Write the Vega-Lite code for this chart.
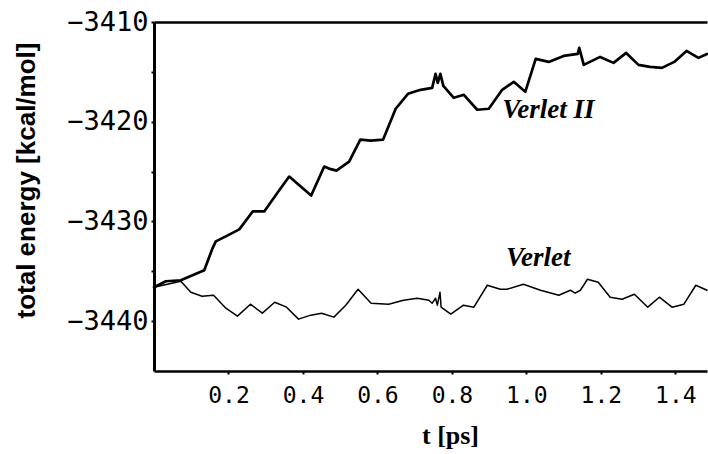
{
  "$schema": "https://vega.github.io/schema/vega-lite/v6.json",
  "width": 553,
  "height": 349,
  "autosize": {"type": "none"},
  "padding": {"left": 154, "top": 22, "right": 1, "bottom": 83},
  "background": "white",
  "config": {"view": {"stroke": null}},
  "datasets": {
    "energy": [
      {"s":"Verlet II","t":0,"E":-3436.6},{"s":"Verlet II","t":0.032,"E":-3436.0},{"s":"Verlet II","t":0.072,"E":-3435.9},{"s":"Verlet II","t":0.135,"E":-3434.9},{"s":"Verlet II","t":0.157,"E":-3432.7},{"s":"Verlet II","t":0.166,"E":-3432.0},{"s":"Verlet II","t":0.198,"E":-3431.4},{"s":"Verlet II","t":0.229,"E":-3430.8},{"s":"Verlet II","t":0.265,"E":-3429.0},{"s":"Verlet II","t":0.296,"E":-3429.0},{"s":"Verlet II","t":0.332,"E":-3427.1},{"s":"Verlet II","t":0.363,"E":-3425.5},{"s":"Verlet II","t":0.422,"E":-3427.4},{"s":"Verlet II","t":0.457,"E":-3424.5},{"s":"Verlet II","t":0.470,"E":-3424.7},{"s":"Verlet II","t":0.490,"E":-3424.9},{"s":"Verlet II","t":0.524,"E":-3424.0},{"s":"Verlet II","t":0.554,"E":-3421.8},{"s":"Verlet II","t":0.582,"E":-3421.9},{"s":"Verlet II","t":0.615,"E":-3421.8},{"s":"Verlet II","t":0.649,"E":-3418.7},{"s":"Verlet II","t":0.682,"E":-3417.2},{"s":"Verlet II","t":0.716,"E":-3416.8},{"s":"Verlet II","t":0.747,"E":-3416.6},{"s":"Verlet II","t":0.756,"E":-3415.2},{"s":"Verlet II","t":0.762,"E":-3416.1},{"s":"Verlet II","t":0.769,"E":-3415.2},{"s":"Verlet II","t":0.777,"E":-3416.4},{"s":"Verlet II","t":0.805,"E":-3417.6},{"s":"Verlet II","t":0.832,"E":-3417.3},{"s":"Verlet II","t":0.868,"E":-3418.8},{"s":"Verlet II","t":0.899,"E":-3418.7},{"s":"Verlet II","t":0.935,"E":-3416.8},{"s":"Verlet II","t":0.966,"E":-3416.0},{"s":"Verlet II","t":0.997,"E":-3417.0},{"s":"Verlet II","t":1.025,"E":-3413.7},{"s":"Verlet II","t":1.060,"E":-3414.0},{"s":"Verlet II","t":1.100,"E":-3413.4},{"s":"Verlet II","t":1.138,"E":-3413.2},{"s":"Verlet II","t":1.142,"E":-3412.6},{"s":"Verlet II","t":1.154,"E":-3414.3},{"s":"Verlet II","t":1.198,"E":-3413.5},{"s":"Verlet II","t":1.234,"E":-3414.1},{"s":"Verlet II","t":1.268,"E":-3413.1},{"s":"Verlet II","t":1.301,"E":-3414.3},{"s":"Verlet II","t":1.332,"E":-3414.5},{"s":"Verlet II","t":1.364,"E":-3414.6},{"s":"Verlet II","t":1.397,"E":-3414.0},{"s":"Verlet II","t":1.430,"E":-3412.9},{"s":"Verlet II","t":1.462,"E":-3413.6},{"s":"Verlet II","t":1.485,"E":-3413.2},
      {"s":"Verlet","t":0,"E":-3436.6},{"s":"Verlet","t":0.072,"E":-3436.0},{"s":"Verlet","t":0.099,"E":-3437.1},{"s":"Verlet","t":0.129,"E":-3437.5},{"s":"Verlet","t":0.160,"E":-3437.4},{"s":"Verlet","t":0.193,"E":-3438.7},{"s":"Verlet","t":0.224,"E":-3439.5},{"s":"Verlet","t":0.259,"E":-3438.3},{"s":"Verlet","t":0.291,"E":-3439.2},{"s":"Verlet","t":0.324,"E":-3438.1},{"s":"Verlet","t":0.356,"E":-3438.6},{"s":"Verlet","t":0.388,"E":-3439.8},{"s":"Verlet","t":0.421,"E":-3439.4},{"s":"Verlet","t":0.450,"E":-3439.2},{"s":"Verlet","t":0.483,"E":-3439.6},{"s":"Verlet","t":0.515,"E":-3438.4},{"s":"Verlet","t":0.548,"E":-3436.8},{"s":"Verlet","t":0.583,"E":-3438.2},{"s":"Verlet","t":0.630,"E":-3438.3},{"s":"Verlet","t":0.670,"E":-3437.9},{"s":"Verlet","t":0.707,"E":-3437.7},{"s":"Verlet","t":0.738,"E":-3437.9},{"s":"Verlet","t":0.747,"E":-3438.2},{"s":"Verlet","t":0.756,"E":-3437.7},{"s":"Verlet","t":0.761,"E":-3438.4},{"s":"Verlet","t":0.768,"E":-3437.1},{"s":"Verlet","t":0.771,"E":-3438.6},{"s":"Verlet","t":0.797,"E":-3439.3},{"s":"Verlet","t":0.831,"E":-3438.4},{"s":"Verlet","t":0.859,"E":-3438.6},{"s":"Verlet","t":0.895,"E":-3436.4},{"s":"Verlet","t":0.930,"E":-3436.8},{"s":"Verlet","t":0.948,"E":-3436.8},{"s":"Verlet","t":0.992,"E":-3436.3},{"s":"Verlet","t":1.038,"E":-3436.9},{"s":"Verlet","t":1.087,"E":-3437.4},{"s":"Verlet","t":1.118,"E":-3436.9},{"s":"Verlet","t":1.131,"E":-3437.2},{"s":"Verlet","t":1.145,"E":-3436.9},{"s":"Verlet","t":1.164,"E":-3435.8},{"s":"Verlet","t":1.193,"E":-3436.1},{"s":"Verlet","t":1.225,"E":-3437.6},{"s":"Verlet","t":1.257,"E":-3437.8},{"s":"Verlet","t":1.290,"E":-3437.3},{"s":"Verlet","t":1.326,"E":-3438.6},{"s":"Verlet","t":1.357,"E":-3437.6},{"s":"Verlet","t":1.391,"E":-3438.6},{"s":"Verlet","t":1.423,"E":-3438.3},{"s":"Verlet","t":1.455,"E":-3436.4},{"s":"Verlet","t":1.485,"E":-3436.9}
    ],
    "labels": [
      {"name": "Verlet II", "t": 1.059, "E": -3418.8},
      {"name": "Verlet", "t": 1.032, "E": -3433.7}
    ]
  },
  "layer": [
    {
      "data": {"name": "energy"},
      "mark": {"type": "line", "color": "black", "strokeJoin": "round", "strokeCap": "round"},
      "encoding": {
        "x": {
          "field": "t", "type": "quantitative",
          "scale": {"domain": [0, 1.485], "nice": false, "zero": false},
          "axis": {
            "orient": "bottom",
            "title": "t [ps]",
            "values": [0.2, 0.4, 0.6, 0.8, 1.0, 1.2, 1.4],
            "format": ".1f",
            "grid": false,
            "domainColor": "black", "domainWidth": 2.5,
            "tickColor": "black", "tickSize": 3, "tickWidth": 2,
            "labelFont": "DejaVu Sans Mono", "labelFontSize": 23, "labelColor": "black",
            "labelPadding": 10, "labelDx": -9,
            "titleFont": "Liberation Serif", "titleFontSize": 26, "titleFontWeight": "bold", "titleColor": "black",
            "titleX": 296, "titleY": 72, "titleBaseline": "alphabetic", "titleAlign": "center"
          }
        },
        "y": {
          "field": "E", "type": "quantitative",
          "scale": {"domain": [-3445, -3410], "nice": false, "zero": false},
          "axis": {
            "orient": "left",
            "title": "total energy [kcal/mol]",
            "values": [-3440, -3435, -3430, -3425, -3420, -3415, -3410],
            "format": "d",
            "labelExpr": "datum.value % 10 == 0 ? datum.label : ''",
            "grid": false,
            "domainColor": "black", "domainWidth": 3,
            "tickColor": "black", "tickSize": 3, "tickWidth": 2,
            "labelFont": "DejaVu Sans Mono", "labelFontSize": 27, "labelColor": "black",
            "labelPadding": 3,
            "titleFont": "Liberation Sans", "titleFontSize": 26, "titleFontWeight": "bold", "titleColor": "black",
            "titleX": -120, "titleY": 158, "titleBaseline": "alphabetic", "titleAlign": "center", "titleAngle": 270
          }
        },
        "detail": {"field": "s"},
        "strokeWidth": {
          "field": "s", "type": "nominal",
          "scale": {"domain": ["Verlet II", "Verlet"], "range": [2.7, 1.5]},
          "legend": null
        }
      }
    },
    {
      "data": {"name": "labels"},
      "mark": {"type": "text", "font": "Liberation Serif", "fontSize": 27, "fontWeight": "bold", "fontStyle": "italic", "color": "black", "align": "center", "baseline": "middle"},
      "encoding": {
        "x": {
          "field": "t", "type": "quantitative",
          "axis": {"orient": "top", "title": null, "labels": false, "ticks": false, "grid": false, "domainColor": "black", "domainWidth": 2.5}
        },
        "y": {"field": "E", "type": "quantitative"},
        "text": {"field": "name"}
      }
    }
  ],
  "resolve": {"axis": {"x": "independent"}}
}
